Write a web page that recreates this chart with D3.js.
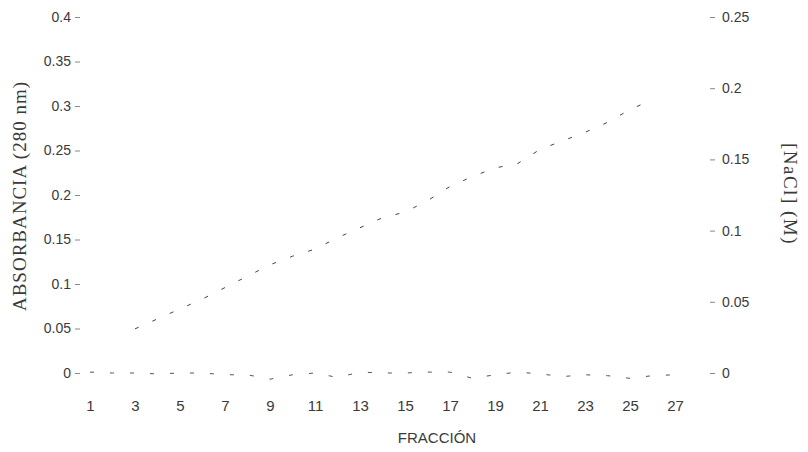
<!DOCTYPE html>
<html>
<head>
<meta charset="utf-8">
<script src="https://cdn.jsdelivr.net/npm/d3@7"></script>
<style>
  html, body { margin: 0; padding: 0; background: #fff; }
  svg text { font-family: "Liberation Sans", Arial, sans-serif; fill: #3a3a3a; }
</style>
</head>
<body>
<svg id="chart" width="808" height="452"></svg>
<script>
// ---- data ----
const fractions = [1,2,3,4,5,6,7,8,9,10,11,12,13,14,15,16,17,18,19,20,21,22,23,24,25,26,27];
const absorbance = [0.001,0.0,0.0,-0.001,0.0,0.0,-0.002,-0.002,-0.007,-0.002,0.0,-0.005,0.001,0.0,0.0,0.001,0.001,-0.006,-0.002,0.001,-0.001,-0.004,-0.002,-0.003,-0.006,-0.003,-0.002];
const naclFractions = [3,4,5,6,7,8,9,10,11,12,13,14,15,16,17,18,19,20,21,22,23,24,25,26];
const nacl = [0.031,0.038,0.045,0.052,0.060,0.068,0.076,0.082,0.087,0.095,0.102,0.109,0.113,0.121,0.131,0.138,0.144,0.147,0.157,0.163,0.169,0.176,0.185,0.192];
const xTicks = [1,3,5,7,9,11,13,15,17,19,21,23,25,27];
const leftTicks = [0,0.05,0.1,0.15,0.2,0.25,0.3,0.35,0.4];
const rightTicks = [0,0.05,0.1,0.15,0.2,0.25];
const xTitle = "FRACCIÓN";
const leftTitle = "ABSORBANCIA (280 nm)";
const rightTitle = "[NaCl] (M)";

// ---- layout ----
const svg = d3.select("#chart");
const x = d3.scaleLinear().domain([0.5, 28.5]).range([78.75, 708.75]);
const yL = d3.scaleLinear().domain([0, 0.4]).range([373, 17]);
const yR = d3.scaleLinear().domain([0, 0.25]).range([373, 17]);
const fmt = d => d === 0 ? "0" : String(+d.toFixed(2));

// left axis
const gL = svg.append("g").attr("transform", "translate(80,0)")
  .call(d3.axisLeft(yL).tickValues(leftTicks).tickFormat(fmt).tickSize(5).tickPadding(4));
gL.select(".domain").remove();
gL.selectAll("line").attr("stroke", "#888");
gL.selectAll("text").style("font-size", "14px");

// right axis
const gR = svg.append("g").attr("transform", "translate(710,0)")
  .call(d3.axisRight(yR).tickValues(rightTicks).tickFormat(fmt).tickSize(5).tickPadding(7));
gR.select(".domain").remove();
gR.selectAll("line").attr("stroke", "#888");
gR.selectAll("text").style("font-size", "14px");

// x axis
const gX = svg.append("g").attr("transform", "translate(0,394)")
  .call(d3.axisBottom(x).tickValues(xTicks).tickSize(0).tickPadding(6));
gX.select(".domain").remove();
gX.selectAll("text").style("font-size", "15px");

// titles
svg.append("text").attr("x", 437).attr("y", 443).attr("text-anchor", "middle")
  .style("font-size", "15px").text(xTitle);
svg.append("text")
  .attr("transform", "translate(26,196) rotate(-90)")
  .attr("text-anchor", "middle")
  .style("font-family", "'Liberation Serif', 'Times New Roman', serif")
  .style("font-size", "19px").style("letter-spacing", "1px").text(leftTitle);
svg.append("text")
  .attr("transform", "translate(784,194) rotate(90)")
  .attr("text-anchor", "middle")
  .style("font-family", "'Liberation Serif', 'Times New Roman', serif")
  .style("font-size", "19px").style("letter-spacing", "1.5px").text(rightTitle);

// series
const absLine = d3.line().x((d, i) => x(fractions[i])).y(d => yL(d));
svg.append("path").datum(absorbance)
  .attr("d", absLine)
  .attr("fill", "none").attr("stroke", "#555").attr("stroke-width", 1)
  .attr("stroke-dasharray", "4,16");

const naclLine = d3.line().x((d, i) => x(naclFractions[i])).y(d => yR(d));
svg.append("path").datum(nacl)
  .attr("d", naclLine)
  .attr("fill", "none").attr("stroke", "#444").attr("stroke-width", 1)
  .attr("stroke-dasharray", "4,15");
</script>
</body>
</html>
